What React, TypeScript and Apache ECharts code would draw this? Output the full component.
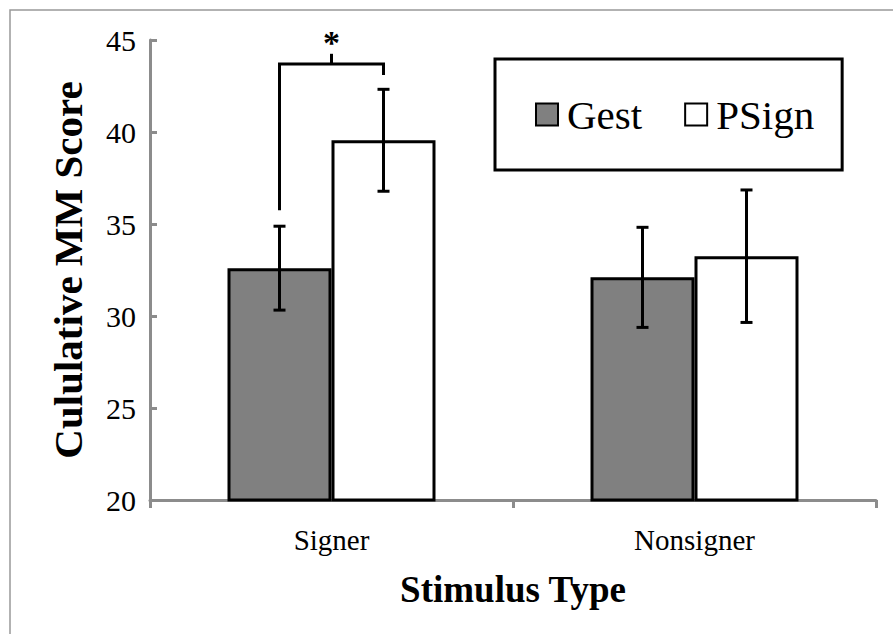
import React, { useEffect, useRef } from "react";
import * as echarts from "echarts";

const categories = ["Signer", "Nonsigner"];
const seriesNames = ["Gest", "PSign"];
const gestValues = [32.6, 32.1];
const psignValues = [39.55, 33.25];
const gestErrors = [2.28, 2.72];
const psignErrors = [2.77, 3.6];
// bracket: [category index, left bottom, right bottom, top, tick top, star y]
const bracketData = [[0, 35.75, 43.1, 43.7, 44.25, 45.05]];
const yTicks = { min: 20, max: 45, interval: 5 };

const FONT = "'Liberation Serif', 'Times New Roman', serif";
const BAR_FRAC = 0.2865;

export default function App() {
  const ref = useRef<HTMLDivElement>(null);
  useEffect(() => {
    if (!ref.current) return;
    const chart = echarts.init(ref.current, undefined, { renderer: "svg" });

    const errorSeries = (name: string, vals: number[], errs: number[], side: number) => ({
      type: "custom",
      name: name + "Err",
      silent: true,
      z: 5,
      data: vals.map((v, i) => [i, v - errs[i], v + errs[i]]),
      renderItem: (params: any, api: any) => {
        const band = api.size([1, 0])[0];
        const off = (side * band * BAR_FRAC) / 2;
        const lo = api.coord([api.value(0), api.value(1)]);
        const hi = api.coord([api.value(0), api.value(2)]);
        const x = lo[0] + off;
        const cap = 6;
        const st = { stroke: "#000", lineWidth: 3 };
        return {
          type: "group",
          children: [
            { type: "line", shape: { x1: x, y1: lo[1], x2: x, y2: hi[1] }, style: st },
            { type: "line", shape: { x1: x - cap, y1: lo[1], x2: x + cap, y2: lo[1] }, style: st },
            { type: "line", shape: { x1: x - cap, y1: hi[1], x2: x + cap, y2: hi[1] }, style: st },
          ],
        };
      },
    });

    chart.setOption({
      animation: false,
      textStyle: { fontFamily: FONT },
      grid: { left: 150, right: 17, top: 40, bottom: 134 },
      graphic: [
        {
          type: "rect",
          shape: { x: 10, y: 10, width: 900, height: 700 },
          style: { fill: "none", stroke: "#999", lineWidth: 1.5 },
          z: -10,
        },
      ],
      legend: {
        data: seriesNames,
        left: 495,
        top: 59,
        orient: "horizontal",
        borderColor: "#000",
        borderWidth: 3,
        padding: [35, 28, 35, 40],
        itemWidth: 22,
        itemHeight: 22,
        itemGap: 42,
        icon: "rect",
        textStyle: { fontFamily: FONT, fontSize: 41, color: "#000", padding: [0, 0, 0, 4] },
      },
      xAxis: {
        type: "category",
        data: categories,
        name: "Stimulus Type",
        nameLocation: "middle",
        nameGap: 71,
        nameTextStyle: { fontFamily: FONT, fontSize: 37, fontWeight: "bold", color: "#000" },
        axisLine: { lineStyle: { color: "#8c8c8c", width: 3 } },
        axisTick: { show: true, length: 8, lineStyle: { color: "#8c8c8c", width: 3 } },
        axisLabel: { fontFamily: FONT, fontSize: 29, color: "#000", margin: 25 },
      },
      yAxis: {
        type: "value",
        min: yTicks.min,
        max: yTicks.max,
        interval: yTicks.interval,
        name: "Cululative MM Score",
        nameLocation: "middle",
        nameGap: 62,
        nameTextStyle: { fontFamily: FONT, fontSize: 41, fontWeight: "bold", color: "#000" },
        axisLine: { show: true, lineStyle: { color: "#8c8c8c", width: 3 } },
        axisTick: { show: true, inside: true, length: 7, lineStyle: { color: "#8c8c8c", width: 3 } },
        axisLabel: { fontFamily: FONT, fontSize: 30, color: "#000", margin: 14 },
        splitLine: { show: false },
      },
      series: [
        {
          type: "bar",
          name: "Gest",
          data: gestValues,
          barWidth: (BAR_FRAC * 100).toFixed(2) + "%",
          barGap: "0%",
          itemStyle: { color: "#808080", borderColor: "#000", borderWidth: 3 },
        },
        {
          type: "bar",
          name: "PSign",
          data: psignValues,
          barWidth: (BAR_FRAC * 100).toFixed(2) + "%",
          barGap: "0%",
          itemStyle: { color: "#ffffff", borderColor: "#000", borderWidth: 3 },
        },
        errorSeries("Gest", gestValues, gestErrors, -1),
        errorSeries("PSign", psignValues, psignErrors, 1),
        {
          type: "custom",
          name: "bracket",
          silent: true,
          clip: false,
          z: 6,
          data: bracketData,
          renderItem: (params: any, api: any) => {
            const band = api.size([1, 0])[0];
            const off = (band * BAR_FRAC) / 2;
            const c = api.value(0);
            const pLB = api.coord([c, api.value(1)]);
            const pRB = api.coord([c, api.value(2)]);
            const pTop = api.coord([c, api.value(3)]);
            const pTick = api.coord([c, api.value(4)]);
            const pStar = api.coord([c, api.value(5)]);
            const xL = pLB[0] - off;
            const xR = pLB[0] + off;
            const st = { stroke: "#000", lineWidth: 3, fill: "none" };
            return {
              type: "group",
              children: [
                {
                  type: "polyline",
                  shape: { points: [[xL, pLB[1]], [xL, pTop[1]], [xR, pTop[1]], [xR, pRB[1]]] },
                  style: st,
                },
                { type: "line", shape: { x1: pLB[0], y1: pTop[1], x2: pLB[0], y2: pTick[1] }, style: st },
                {
                  type: "text",
                  style: {
                    text: "*",
                    x: pLB[0],
                    y: pStar[1] + 3,
                    align: "center",
                    verticalAlign: "middle",
                    fontFamily: FONT,
                    fontSize: 34,
                    fontWeight: "bold",
                    fill: "#000",
                  },
                },
              ],
            };
          },
        },
      ],
    });
    return () => chart.dispose();
  }, []);
  return (
    <div
      ref={ref}
      style={{ position: "absolute", left: 0, top: 0, width: 893, height: 634, background: "#fff" }}
    />
  );
}
